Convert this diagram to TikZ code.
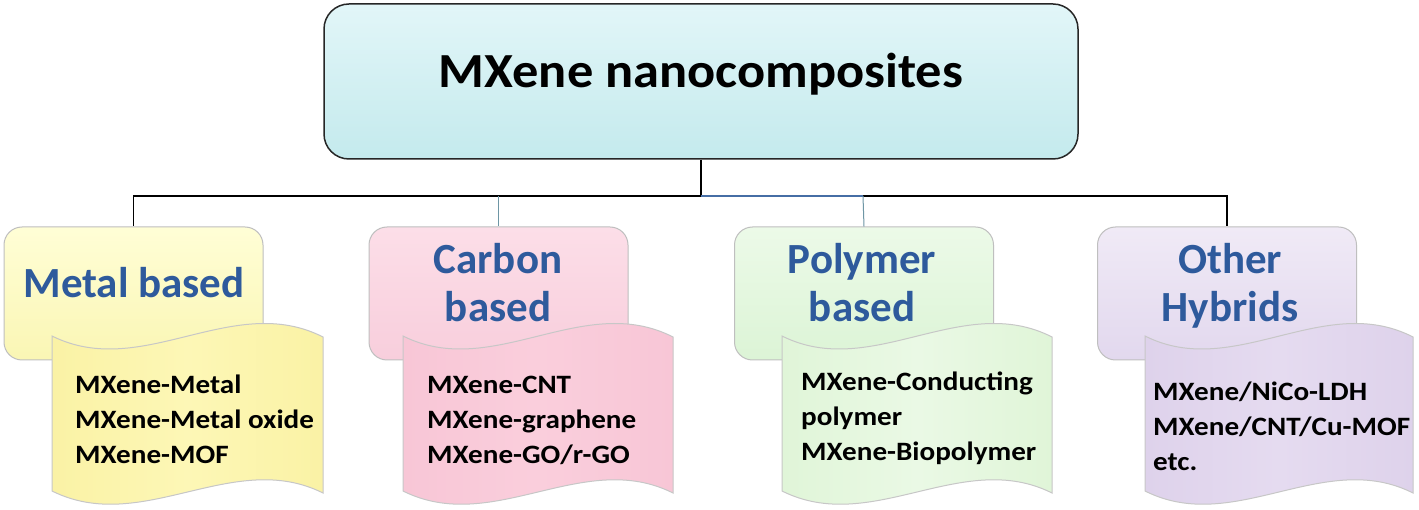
\documentclass[tikz,border=0pt]{standalone}
\usepackage{fontspec}
\setmainfont{Carlito}
\newfontfamily\itemfont[FakeStretch=1.1]{Carlito}
\newfontfamily\titlefont[FakeStretch=1.07]{Carlito}
\usetikzlibrary{calc}
\definecolor{catblue}{RGB}{46,90,156}
\definecolor{titletop}{RGB}{226,246,248}
\definecolor{titlebot}{RGB}{196,234,237}
\definecolor{busblue}{RGB}{70,110,165}
\definecolor{dropteal}{RGB}{110,150,165}
\definecolor{ytop}{RGB}{255,254,214}
\definecolor{ybot}{RGB}{250,246,180}
\definecolor{yedge}{RGB}{250,242,165}
\definecolor{ymid}{RGB}{253,247,182}
\definecolor{ptop}{RGB}{252,222,232}
\definecolor{pbot}{RGB}{248,206,220}
\definecolor{pedge}{RGB}{248,198,214}
\definecolor{pmid}{RGB}{250,206,220}
\definecolor{gtop}{RGB}{236,250,232}
\definecolor{gbot}{RGB}{220,244,214}
\definecolor{gedge}{RGB}{224,245,216}
\definecolor{gmid}{RGB}{234,249,229}
\definecolor{vtop}{RGB}{240,234,246}
\definecolor{vbot}{RGB}{226,216,238}
\definecolor{vedge}{RGB}{222,210,235}
\definecolor{vmid}{RGB}{229,219,240}
\tikzset{
  titlebox/.style={draw=black!85, line width=1.5pt, rounded corners=25pt,
    top color=titletop, bottom color=titlebot,
    minimum width=754pt, minimum height=155pt, inner sep=0pt},
  catbox/.style={draw=black!25, line width=1pt, rounded corners=18pt,
    minimum width=259pt, minimum height=133pt, inner sep=0pt},
  cattext/.style={font=\fontsize{43}{48}\selectfont\bfseries, text=catblue,
    align=center, inner sep=0pt, anchor=base},
  itemtext/.style={font=\itemfont\fontsize{26.5}{35}\selectfont\bfseries, text=black,
    align=left, inner sep=0pt, anchor=base west},
  wavebd/.style={draw=black!22, line width=1pt},
  bus/.style={draw=black, line width=1.8pt},
  busb/.style={draw=busblue, line width=1.8pt},
  drop/.style={draw=dropteal, line width=1pt}
}
% wave: #1 left, #2 right, #3 edge colour, #4 middle colour
\newcommand{\wavepath}[4]{%
  \shade[wavebd, left color=#3, right color=#3, middle color=#4]
    (#1,336) .. controls ({#1+(#2-#1)/3},381) and ({#1+2*(#2-#1)/3},291) .. (#2,337)
    -- (#2,493) .. controls ({#1+2*(#2-#1)/3},448) and ({#1+(#2-#1)/3},536) .. (#1,491)
    -- cycle;}
\begin{document}
\begin{tikzpicture}[x=1pt,y=-1pt]
\useasboundingbox (0,0) rectangle (1419,510);
\fill[white] (0,0) rectangle (1419,510);

% title
\node[titlebox] (title) at (701,81.5) {};
\node[font=\titlefont\fontsize{49}{52}\selectfont\bfseries, anchor=base, inner sep=0pt]
  (titletext) at (701,88) {MXene nanocomposites};

% category boxes
\node[catbox, top color=ytop, bottom color=ybot] (metal) at (133.5,293.5) {};
\node[catbox, top color=ptop, bottom color=pbot] (carbon) at (498.5,293.5) {};
\node[catbox, top color=gtop, bottom color=gbot] (polymer) at (864,293.5) {};
\node[catbox, top color=vtop, bottom color=vbot] (other) at (1227,293.5) {};

% connectors
\coordinate (hub) at (701,196);
\coordinate (jp) at (863,196);
\draw[bus] (title.south) -- (hub);
\draw[bus] (hub) -| (metal.north);
\draw[busb] (hub) -- (jp);
\draw[bus] (jp) -| (other.north);
\draw[drop] (carbon.north |- hub) -- (carbon.north);
\draw[drop] (jp) -- (polymer.north);

% category labels
\node[cattext] (metallbl) at (134,298) {Metal based};
\node[cattext] (carbonlbl) at (498,322) {Carbon\\based};
\node[cattext] (polymerlbl) at (862,322) {Polymer\\based};
\node[cattext] (otherlbl) at (1230,322) {Other\\Hybrids};

% waves
\wavepath{52}{323}{yedge}{ymid}
\wavepath{403}{673}{pedge}{pmid}
\wavepath{782}{1052}{gedge}{gmid}
\wavepath{1145}{1413}{vedge}{vmid}

% item lists
\node[itemtext] (metalitems) at (75,463) {MXene-Metal\\MXene-Metal oxide\\MXene-MOF};
\node[itemtext] (carbonitems) at (427,463) {MXene-CNT\\MXene-graphene\\MXene-GO/r-GO};
\node[itemtext] (polymeritems) at (801,460) {MXene-Conducting\\polymer\\MXene-Biopolymer};
\node[itemtext] (otheritems) at (1153,470) {MXene/NiCo-LDH\\MXene/CNT/Cu-MOF\\etc.};
\end{tikzpicture}
\end{document}
